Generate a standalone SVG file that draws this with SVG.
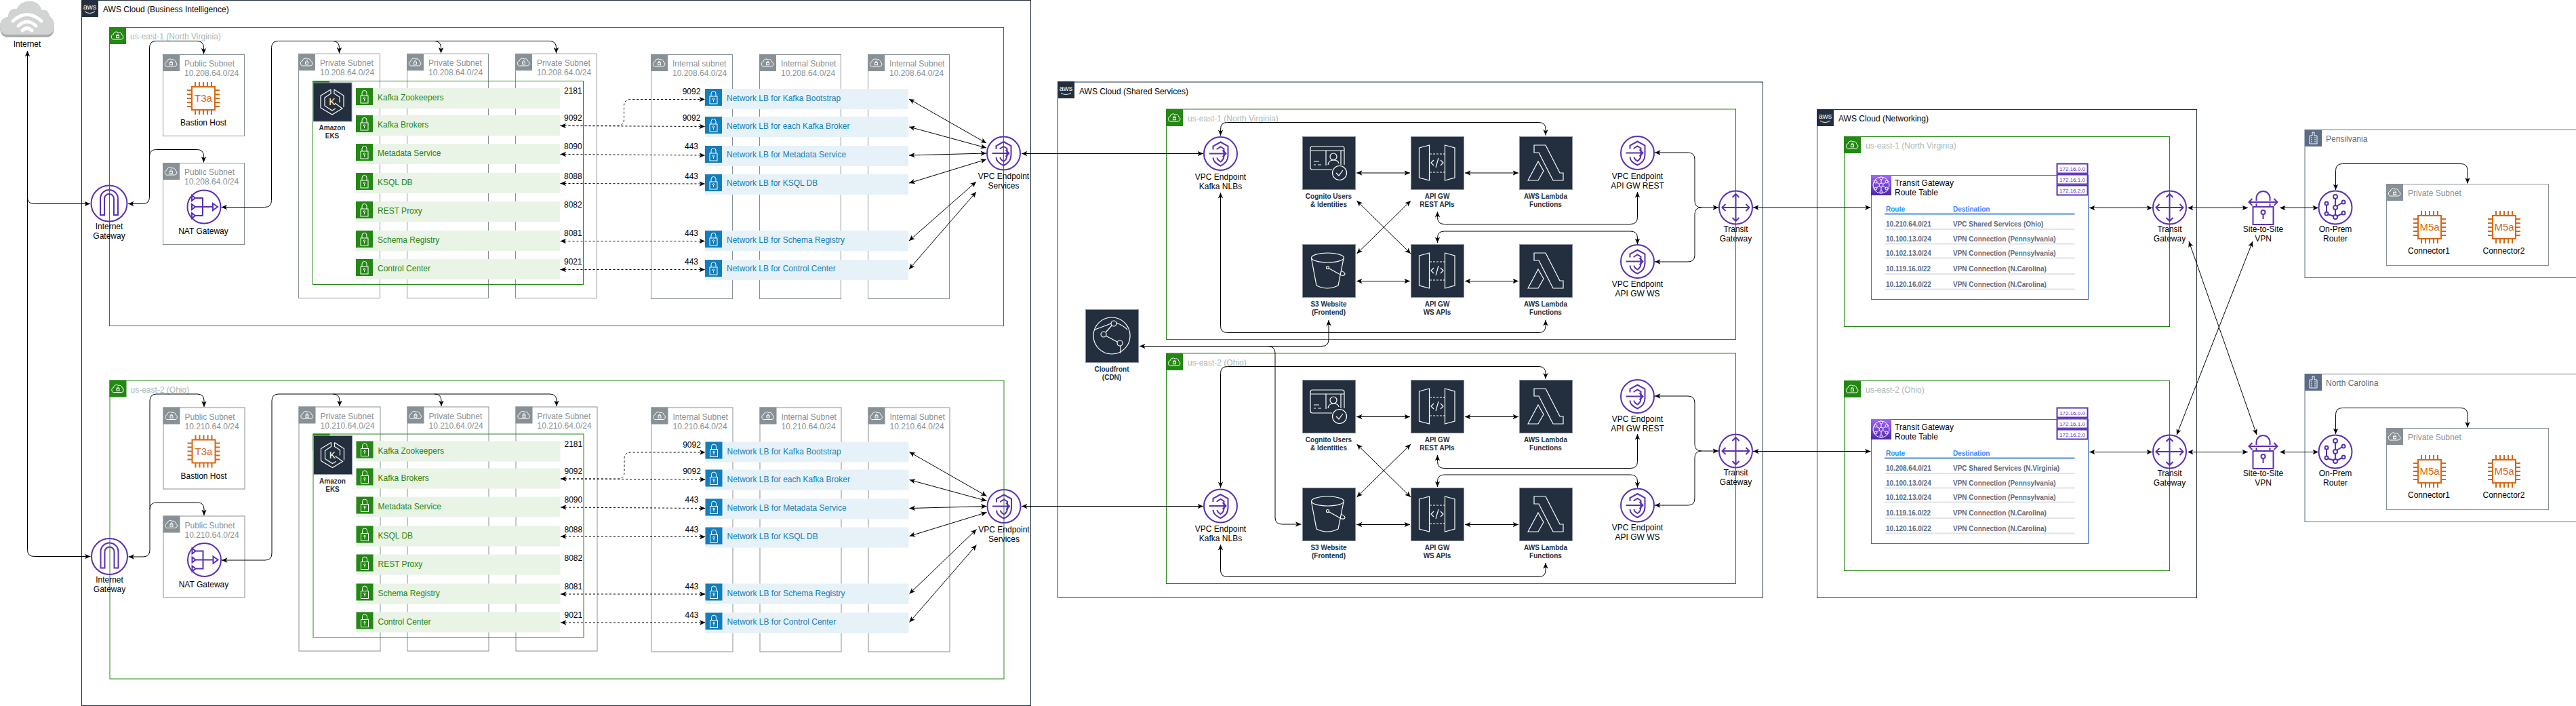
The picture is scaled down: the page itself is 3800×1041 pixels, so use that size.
<svg xmlns="http://www.w3.org/2000/svg" width="3800" height="1041" viewBox="0 0 3800 1041">
<style>
text{font-family:"Liberation Sans",Arial,sans-serif;font-size:12px;fill:#000}
.m{text-anchor:middle}
.b10{font-size:10px;font-weight:bold;fill:#232F3E}
.sub{fill:#879196}
.reg{fill:#AAB7B8}
.gt{fill:#248814}
.bt{fill:#147EBA}
.sl{fill:#5A6C86}
.hd{font-size:10px;font-weight:bold;fill:#2D8CFF}
.rw{font-size:10px;font-weight:bold;fill:#5A6B86}
.chipt{font-size:8px;fill:#5A30B5;text-anchor:middle}
.cloud{fill:none;stroke:#232F3E}
.region{fill:none;stroke:#248814}
.subnet{fill:none;stroke:#879196}
.office{fill:none;stroke:#5A6C86}
.rt{fill:#fff;stroke:#3B6FB5}
.chip{fill:#fff;stroke:#5A30B5;stroke-width:2}
.sep{stroke:#E0E3E8;stroke-width:2;fill:none}
.lg{fill:#E9F3E6}
.lb{fill:#E6F2F8}
.c{fill:none;stroke:#000;stroke-width:1;marker-end:url(#a)}
.cb{fill:none;stroke:#000;stroke-width:1;marker-start:url(#a);marker-end:url(#a)}
.d{stroke-dasharray:3 3}
.n{fill:none;stroke:#000;stroke-width:1}
.p{fill:none;stroke:#5A30B5;stroke-width:2}
.o{fill:none;stroke:#D86613;stroke-width:2}
.w{fill:none;stroke:#fff;stroke-width:1.2}
.w2{fill:none;stroke:#fff;stroke-width:1}
.dk{fill:#232F3E;stroke:#8A94A0;stroke-width:1}
</style>
<defs>
<marker id="a" viewBox="0 0 9 8" refX="8.5" refY="4" markerWidth="9" markerHeight="8" orient="auto-start-reverse" markerUnits="userSpaceOnUse"><path d="M0 0.3L8.5 4L0 7.7L2.2 4Z" fill="#000"/></marker>
<linearGradient id="pg" x1="0" y1="1" x2="0" y2="0"><stop offset="0" stop-color="#4D27AA"/><stop offset="1" stop-color="#A166FF"/></linearGradient>
<g id="hc"><path class="w2" d="M8 18h9.500a3.400 3.400 0 0 0 1.200-6.600a3.700 3.700 0 0 0-5.200-3.400a4.600 4.600 0 0 0-7.500 3a3.600 3.600 0 0 0 2 7z"/><rect class="w2" x="10.500" y="12.500" width="4" height="3.200"/><path class="w2" d="M11.300 12.500v-1a1.200 1.200 0 0 1 2.400 0v1"/></g>
<g id="h-grn"><rect width="25" height="25" fill="#248814"/><use href="#hc"/></g>
<g id="h-gry"><rect width="25" height="25" fill="#879196"/><use href="#hc"/></g>
<g id="h-aws"><rect width="25" height="25" fill="#232F3E"/><text x="12.500" y="14" class="m" style="font-size:11px;fill:#fff">aws</text><path d="M5 17Q12 22 20 17" class="w2"/></g>
<g id="h-bld"><rect width="25" height="25" fill="#5A6C86"/><path class="w2" d="M7 21V9H11V4H14V9H18V21ZM9 12H11M14 12H16M9 15H11M14 15H16M9 18H11M14 18H16"/></g>
<g id="lock"><rect class="w2" x="7" y="11" width="11" height="11"/><path class="w2" d="M9 11V7a3.500 3.500 0 0 1 7 0v4"/><circle class="w2" cx="12.500" cy="15" r="1.200"/><path class="w2" d="M12.500 16.200V19"/></g>
<g id="l-grn"><rect width="25" height="25" fill="#248814"/><use href="#lock"/></g>
<g id="l-blu"><rect width="25" height="25" fill="#147EBA"/><use href="#lock"/></g>
<g id="i-igw"><circle class="p" r="26.500"/><path class="p" d="M-13 17V-7a13 13 0 0 1 26 0V17H7V-7a7 7 0 0 0-14 0V17Z"/></g>
<g id="i-nat"><circle class="p" r="24.500"/><path class="p" d="M-18-17L-13-13L-18-9ZM-18-4L-13 0L-18 4ZM-18 9L-13 13L-18 17ZM-13-13H-2V13H-13M-13 0H13M13-5L20 0L13 5Z"/></g>
<g id="i-vpce"><circle class="p" r="24.500"/><path class="p" d="M-11-6V-11L0-17L11-11V3Q11 13 0 18Q-11 13-11 6M-5-6V-7L0-10L5-7V3Q5 9 0 12Q-5 9-5 6"/><path class="p" d="M-17 0H8M3-5L8 0L3 5"/></g>
<g id="i-tgw"><circle class="p" r="24.500"/><path class="p" d="M0-20V20M-20 0H20M-5-15L0-20L5-15M-5 15L0 20L5 15M-15-5L-20 0L-15 5M15-5L20 0L15 5"/></g>
<g id="i-vpn"><path class="p" d="M-21-8H21M-16-13L-21-8L-16-3M16-13L21-8L16-3M-10-10V-14a10 10 0 0 1 20 0V-10M-10-6V-1M10-6V-1"/><rect class="p" x="-15" y="-1" width="30" height="26"/><circle class="p" cx="0" cy="7" r="3"/><path class="p" d="M0 10V17"/></g>
<g id="i-rtr"><circle class="p" r="24.500"/><path class="p" d="M0-13V-3M0 3V11M2-2L10-7M-13-3V6M-11 10L-2 13M2 13L10 9"/><g class="p"><circle cy="-16" r="3"/><circle r="3"/><circle cx="-13" cy="-6" r="2.500"/><circle cx="12" cy="-8" r="2.500"/><circle cx="-13" cy="9" r="2.500"/><circle cx="12" cy="8" r="2.500"/><circle cy="14" r="3"/></g></g>
<g id="i-chip"><rect class="o" x="7" y="7" width="34" height="34"/><path class="o" d="M12 0V7M18 0V7M24 0V7M30 0V7M36 0V7M12 41V48M18 41V48M24 41V48M30 41V48M36 41V48M0 12H7M0 18H7M0 24H7M0 30H7M0 36H7M41 12H48M41 18H48M41 24H48M41 30H48M41 36H48"/></g>
<g id="i-cog"><rect class="dk" x=".5" y=".5" width="78" height="78"/><path class="w" d="M44 49H15Q12 49 12 46V18Q12 15 15 15H59Q62 15 62 18V42M12 21H35M57 21H62"/><path class="w" d="M35 43V21H57V42M38 42Q39 35 46 35Q53 35 54 40M17 37H25M17 42H20M23 42H28"/><circle class="w" cx="46" cy="30" r="5"/><circle class="w" cx="55" cy="54" r="10.500"/><path class="w" d="M50 54L54 58L60 50"/></g>
<g id="i-api"><rect class="dk" x=".5" y=".5" width="78" height="78"/><path class="w" d="M12.500 17L27.500 13V65L12.500 61ZM50.500 13L65 17V61L50.500 65Z"/><path class="w" stroke-dasharray="3 2" d="M28 26H50M28 53H50"/><path class="w" d="M34 35L30 39L34 43M44 35L48 39L44 43M37 46L41 32"/></g>
<g id="i-lam"><rect class="dk" x=".5" y=".5" width="78" height="78"/><path class="w" d="M22 13H39L60 54H65V65H50L29 24H22ZM13 65L28 37L36 51L28 65Z"/></g>
<g id="i-s3"><rect class="dk" x=".5" y=".5" width="78" height="78"/><ellipse class="w" cx="37.500" cy="20" rx="24" ry="7"/><path class="w" d="M13.500 21L21 61Q37 69 53 61L61 21"/><circle class="w" cx="37.500" cy="34.500" r="2"/><path class="w" d="M39 35.500L58 46Q63 47 63 43.500Q62 41 58 39.500"/></g>
<g id="i-cf"><rect class="dk" x=".5" y=".5" width="78" height="78"/><circle class="w" cx="39" cy="39" r="27"/><circle class="w" cx="42" cy="21" r="4"/><circle class="w" cx="27" cy="37" r="4"/><circle class="w" cx="51" cy="50" r="4"/><path class="w" d="M30 34L39 24M30 39L47 48M14 30Q25 26 38 21M46 20Q56 24 62 30M52 54L52 65"/></g>
<g id="i-eks"><rect class="dk" width="57" height="57" stroke="none"/><path class="w" d="M26 10L11 19V37L28 47L43 38L32 30M31 10L45 19V36M26 10V16L17 22V34L28 41L33 38M31 10V16L39 21V29"/><text x="28" y="33" class="m" style="font-size:14px;fill:#fff">K</text></g>
<g id="i-rt"><rect width="30" height="30" fill="url(#pg)"/><g class="w2"><circle cx="15" cy="15" r="12"/><path d="M15 7V23M8 11L22 19M8 19L22 11"/><circle cx="15" cy="15" r="3" fill="#7A47D6"/><circle cx="15" cy="5" r="2" fill="#7A47D6"/><circle cx="15" cy="25" r="2" fill="#7A47D6"/><circle cx="7" cy="10" r="2" fill="#7A47D6"/><circle cx="23" cy="10" r="2" fill="#7A47D6"/><circle cx="7" cy="20" r="2" fill="#7A47D6"/><circle cx="23" cy="20" r="2" fill="#7A47D6"/></g></g>
</defs>

<g id="internet">
<path d="M10 55Q0 53 0 40Q0 27 12 25Q13 12 25 13Q31 2 43 2Q58 2 61 15Q71 13 73 24Q80 29 80 40Q80 53 70 55Z" fill="#ABABAB"/>
<path d="M10 51Q0 50 0 38Q0 27 12 25Q13 12 25 13Q31 2 43 2Q58 2 61 15Q71 13 73 24Q80 29 80 38Q80 50 70 51Z" fill="#D2D3D3"/>
<path d="M19 31Q40 12 61 31M27 38Q40 26 53 38M33 45Q40 38 47 45" fill="none" stroke="#fff" stroke-width="5" stroke-linecap="round"/>
<text x="40" y="69" class="m">Internet</text>
</g>

<g id="cloud-bi"><rect class="cloud" x="120.500" y=".5" width="1400" height="1040"/><use href="#h-aws" x="120" y="0"/><text x="152" y="18">AWS Cloud (Business Intelligence)</text></g>

<g id="bi-1">
<g id="bi1-region"><rect class="region" x="161.500" y="40.500" width="1319" height="440"/><use href="#h-grn" x="161" y="40"/><text class="reg" x="192" y="58">us-east-1 (North Virginia)</text></g>
<g id="bi1-igw"><use href="#i-igw" x="161" y="300"/><text class="m" x="161" y="338">Internet</text><text class="m" x="161" y="352">Gateway</text></g>
<g id="bi1-pub1"><rect class="subnet" x="240.500" y="80.500" width="120" height="120"/><use href="#h-gry" x="240" y="80"/><text class="sub" x="272" y="98">Public Subnet</text><text class="sub" x="272" y="112">10.208.64.0/24</text><use href="#i-chip" x="276" y="121"/><text x="300" y="135" dy="15" class="m" style="font-size:15px;fill:#D86613">T3a</text><text class="m" x="300" y="185">Bastion Host</text></g>
<g id="bi1-pub2"><rect class="subnet" x="240.500" y="240.500" width="120" height="120"/><use href="#h-gry" x="240" y="240"/><text class="sub" x="272" y="258">Public Subnet</text><text class="sub" x="272" y="272">10.208.64.0/24</text><use href="#i-nat" x="301" y="305"/><text class="m" x="300" y="345">NAT Gateway</text></g>
<g id="bi1-priv1"><rect class="subnet" x="440.500" y="79.500" width="120" height="360"/><use href="#h-gry" x="440" y="79"/><text class="sub" x="472" y="97">Private Subnet</text><text class="sub" x="472" y="111">10.208.64.0/24</text></g>
<g id="bi1-priv2"><rect class="subnet" x="600.500" y="79.500" width="120" height="360"/><use href="#h-gry" x="600" y="79"/><text class="sub" x="632" y="97">Private Subnet</text><text class="sub" x="632" y="111">10.208.64.0/24</text></g>
<g id="bi1-priv3"><rect class="subnet" x="760.500" y="79.500" width="120" height="360"/><use href="#h-gry" x="760" y="79"/><text class="sub" x="792" y="97">Private Subnet</text><text class="sub" x="792" y="111">10.208.64.0/24</text></g>
<g id="bi1-int1"><rect class="subnet" x="960.500" y="80.500" width="120" height="360"/><use href="#h-gry" x="960" y="80"/><text class="sub" x="992" y="98">Internal subnet</text><text class="sub" x="992" y="112">10.208.64.0/24</text></g>
<g id="bi1-int2"><rect class="subnet" x="1120.500" y="80.500" width="120" height="360"/><use href="#h-gry" x="1120" y="80"/><text class="sub" x="1152" y="98">Internal Subnet</text><text class="sub" x="1152" y="112">10.208.64.0/24</text></g>
<g id="bi1-int3"><rect class="subnet" x="1280.500" y="80.500" width="120" height="360"/><use href="#h-gry" x="1280" y="80"/><text class="sub" x="1312" y="98">Internal Subnet</text><text class="sub" x="1312" y="112">10.208.64.0/24</text></g>
<g id="bi1-eks"><rect class="region" x="461.500" y="119.500" width="399" height="300"/><use href="#h-grn" x="461" y="119"/><use href="#i-eks" x="462" y="122"/><text class="m b10" x="490" y="192">Amazon</text><text class="m b10" x="490" y="204">EKS</text></g>
<g id="bi1-l1"><rect class="lg" x="525" y="130" width="301" height="30"/><use href="#l-grn" x="525" y="130"/><text class="gt" x="557" y="148">Kafka Zookeepers</text><text x="832" y="138">2181</text></g>
<g id="bi1-l2"><rect class="lg" x="525" y="170" width="301" height="30"/><use href="#l-grn" x="525" y="170"/><text class="gt" x="557" y="188">Kafka Brokers</text><text x="832" y="178">9092</text></g>
<g id="bi1-l3"><rect class="lg" x="525" y="212" width="301" height="30"/><use href="#l-grn" x="525" y="212"/><text class="gt" x="557" y="230">Metadata Service</text><text x="832" y="220">8090</text></g>
<g id="bi1-l4"><rect class="lg" x="525" y="255" width="301" height="30"/><use href="#l-grn" x="525" y="255"/><text class="gt" x="557" y="273">KSQL DB</text><text x="832" y="264">8088</text></g>
<g id="bi1-l5"><rect class="lg" x="525" y="297" width="301" height="30"/><use href="#l-grn" x="525" y="297"/><text class="gt" x="557" y="315">REST Proxy</text><text x="832" y="306">8082</text></g>
<g id="bi1-l6"><rect class="lg" x="525" y="340" width="301" height="30"/><use href="#l-grn" x="525" y="340"/><text class="gt" x="557" y="358">Schema Registry</text><text x="832" y="348">8081</text></g>
<g id="bi1-l7"><rect class="lg" x="525" y="382" width="301" height="30"/><use href="#l-grn" x="525" y="382"/><text class="gt" x="557" y="400">Control Center</text><text x="832" y="390">9021</text></g>
<g id="bi1-n1"><rect class="lb" x="1040" y="131" width="300" height="30"/><use href="#l-blu" x="1040" y="131"/><text class="bt" x="1072" y="149">Network LB for Kafka Bootstrap</text><text class="m" x="1020" y="139">9092</text></g>
<g id="bi1-n2"><rect class="lb" x="1040" y="172" width="300" height="30"/><use href="#l-blu" x="1040" y="172"/><text class="bt" x="1072" y="190">Network LB for each Kafka Broker</text><text class="m" x="1020" y="178">9092</text></g>
<g id="bi1-n3"><rect class="lb" x="1040" y="215" width="300" height="30"/><use href="#l-blu" x="1040" y="215"/><text class="bt" x="1072" y="232">Network LB for Metadata Service</text><text class="m" x="1020" y="220">443</text></g>
<g id="bi1-n4"><rect class="lb" x="1040" y="257" width="300" height="30"/><use href="#l-blu" x="1040" y="257"/><text class="bt" x="1072" y="274">Network LB for KSQL DB</text><text class="m" x="1020" y="264">443</text></g>
<g id="bi1-n5"><rect class="lb" x="1040" y="340" width="300" height="30"/><use href="#l-blu" x="1040" y="340"/><text class="bt" x="1072" y="358">Network LB for Schema Registry</text><text class="m" x="1020" y="348">443</text></g>
<g id="bi1-n6"><rect class="lb" x="1040" y="383" width="300" height="30"/><use href="#l-blu" x="1040" y="383"/><text class="bt" x="1072" y="400">Network LB for Control Center</text><text class="m" x="1020" y="390">443</text></g>
<g id="bi1-vpce"><use href="#i-vpce" x="1480.500" y="226"/><text class="m" x="1480.500" y="264">VPC Endpoint</text><text class="m" x="1480.500" y="278">Services</text></g>
</g>

<g id="bi-2" transform="translate(.5 520.500)">
<g id="bi2-region"><rect class="region" x="161.500" y="40.500" width="1319" height="440"/><use href="#h-grn" x="161" y="40"/><text class="reg" x="192" y="58">us-east-2 (Ohio)</text></g>
<g id="bi2-igw"><use href="#i-igw" x="161" y="300"/><text class="m" x="161" y="338">Internet</text><text class="m" x="161" y="352">Gateway</text></g>
<g id="bi2-pub1"><rect class="subnet" x="240.500" y="80.500" width="120" height="120"/><use href="#h-gry" x="240" y="80"/><text class="sub" x="272" y="98">Public Subnet</text><text class="sub" x="272" y="112">10.210.64.0/24</text><use href="#i-chip" x="276" y="121"/><text x="300" y="135" dy="15" class="m" style="font-size:15px;fill:#D86613">T3a</text><text class="m" x="300" y="185">Bastion Host</text></g>
<g id="bi2-pub2"><rect class="subnet" x="240.500" y="240.500" width="120" height="120"/><use href="#h-gry" x="240" y="240"/><text class="sub" x="272" y="258">Public Subnet</text><text class="sub" x="272" y="272">10.210.64.0/24</text><use href="#i-nat" x="301" y="305"/><text class="m" x="300" y="345">NAT Gateway</text></g>
<g id="bi2-priv1"><rect class="subnet" x="440.500" y="79.500" width="120" height="360"/><use href="#h-gry" x="440" y="79"/><text class="sub" x="472" y="97">Private Subnet</text><text class="sub" x="472" y="111">10.210.64.0/24</text></g>
<g id="bi2-priv2"><rect class="subnet" x="600.500" y="79.500" width="120" height="360"/><use href="#h-gry" x="600" y="79"/><text class="sub" x="632" y="97">Private Subnet</text><text class="sub" x="632" y="111">10.210.64.0/24</text></g>
<g id="bi2-priv3"><rect class="subnet" x="760.500" y="79.500" width="120" height="360"/><use href="#h-gry" x="760" y="79"/><text class="sub" x="792" y="97">Private Subnet</text><text class="sub" x="792" y="111">10.210.64.0/24</text></g>
<g id="bi2-int1"><rect class="subnet" x="960.500" y="80.500" width="120" height="360"/><use href="#h-gry" x="960" y="80"/><text class="sub" x="992" y="98">Internal Subnet</text><text class="sub" x="992" y="112">10.210.64.0/24</text></g>
<g id="bi2-int2"><rect class="subnet" x="1120.500" y="80.500" width="120" height="360"/><use href="#h-gry" x="1120" y="80"/><text class="sub" x="1152" y="98">Internal Subnet</text><text class="sub" x="1152" y="112">10.210.64.0/24</text></g>
<g id="bi2-int3"><rect class="subnet" x="1280.500" y="80.500" width="120" height="360"/><use href="#h-gry" x="1280" y="80"/><text class="sub" x="1312" y="98">Internal Subnet</text><text class="sub" x="1312" y="112">10.210.64.0/24</text></g>
<g id="bi2-eks"><rect class="region" x="461.500" y="119.500" width="399" height="300"/><use href="#h-grn" x="461" y="119"/><use href="#i-eks" x="462" y="122"/><text class="m b10" x="490" y="192">Amazon</text><text class="m b10" x="490" y="204">EKS</text></g>
<g id="bi2-l1"><rect class="lg" x="525" y="130" width="301" height="30"/><use href="#l-grn" x="525" y="130"/><text class="gt" x="557" y="148">Kafka Zookeepers</text><text x="832" y="138">2181</text></g>
<g id="bi2-l2"><rect class="lg" x="525" y="170" width="301" height="30"/><use href="#l-grn" x="525" y="170"/><text class="gt" x="557" y="188">Kafka Brokers</text><text x="832" y="178">9092</text></g>
<g id="bi2-l3"><rect class="lg" x="525" y="212" width="301" height="30"/><use href="#l-grn" x="525" y="212"/><text class="gt" x="557" y="230">Metadata Service</text><text x="832" y="220">8090</text></g>
<g id="bi2-l4"><rect class="lg" x="525" y="255" width="301" height="30"/><use href="#l-grn" x="525" y="255"/><text class="gt" x="557" y="273">KSQL DB</text><text x="832" y="264">8088</text></g>
<g id="bi2-l5"><rect class="lg" x="525" y="297" width="301" height="30"/><use href="#l-grn" x="525" y="297"/><text class="gt" x="557" y="315">REST Proxy</text><text x="832" y="306">8082</text></g>
<g id="bi2-l6"><rect class="lg" x="525" y="340" width="301" height="30"/><use href="#l-grn" x="525" y="340"/><text class="gt" x="557" y="358">Schema Registry</text><text x="832" y="348">8081</text></g>
<g id="bi2-l7"><rect class="lg" x="525" y="382" width="301" height="30"/><use href="#l-grn" x="525" y="382"/><text class="gt" x="557" y="400">Control Center</text><text x="832" y="390">9021</text></g>
<g id="bi2-n1"><rect class="lb" x="1040" y="131" width="300" height="30"/><use href="#l-blu" x="1040" y="131"/><text class="bt" x="1072" y="149">Network LB for Kafka Bootstrap</text><text class="m" x="1020" y="139">9092</text></g>
<g id="bi2-n2"><rect class="lb" x="1040" y="172" width="300" height="30"/><use href="#l-blu" x="1040" y="172"/><text class="bt" x="1072" y="190">Network LB for each Kafka Broker</text><text class="m" x="1020" y="178">9092</text></g>
<g id="bi2-n3"><rect class="lb" x="1040" y="215" width="300" height="30"/><use href="#l-blu" x="1040" y="215"/><text class="bt" x="1072" y="232">Network LB for Metadata Service</text><text class="m" x="1020" y="220">443</text></g>
<g id="bi2-n4"><rect class="lb" x="1040" y="257" width="300" height="30"/><use href="#l-blu" x="1040" y="257"/><text class="bt" x="1072" y="274">Network LB for KSQL DB</text><text class="m" x="1020" y="264">443</text></g>
<g id="bi2-n5"><rect class="lb" x="1040" y="340" width="300" height="30"/><use href="#l-blu" x="1040" y="340"/><text class="bt" x="1072" y="358">Network LB for Schema Registry</text><text class="m" x="1020" y="348">443</text></g>
<g id="bi2-n6"><rect class="lb" x="1040" y="383" width="300" height="30"/><use href="#l-blu" x="1040" y="383"/><text class="bt" x="1072" y="400">Network LB for Control Center</text><text class="m" x="1020" y="390">443</text></g>
<g id="bi2-vpce"><use href="#i-vpce" x="1480.500" y="226"/><text class="m" x="1480.500" y="264">VPC Endpoint</text><text class="m" x="1480.500" y="278">Services</text></g>
</g>

<g id="cloud-shared"><rect class="cloud" x="1560.500" y="121" width="1040" height="760"/><use href="#h-aws" x="1560" y="120"/><text x="1592" y="139">AWS Cloud (Shared Services)</text></g>
<g id="ss1-region"><rect class="region" x="1720.500" y="161" width="840" height="339.500"/><use href="#h-grn" x="1720" y="161"/><text class="reg" x="1752" y="179">us-east-1 (North Virginia)</text></g>
<g id="ss2-region"><rect class="region" x="1720.500" y="521" width="840" height="339.500"/><use href="#h-grn" x="1720" y="521"/><text class="reg" x="1752" y="539">us-east-2 (Ohio)</text></g>
<g id="cloudfront"><use href="#i-cf" x="1601" y="456"/><text class="m b10" x="1640" y="548">Cloudfront</text><text class="m b10" x="1640" y="560">(CDN)</text></g>

<g id="ss1-kafka"><use href="#i-vpce" x="1800.500" y="226.500"/><text class="m" x="1800.500" y="265">VPC Endpoint</text><text class="m" x="1800.500" y="279">Kafka NLBs</text></g>
<g id="ss1-cognito"><use href="#i-cog" x="1921" y="201"/><text class="m b10" x="1960" y="293">Cognito Users</text><text class="m b10" x="1960" y="305">&amp; Identities</text></g>
<g id="ss1-apirest"><use href="#i-api" x="2081" y="201"/><text class="m b10" x="2120" y="293">API GW</text><text class="m b10" x="2120" y="305">REST APIs</text></g>
<g id="ss1-lam1"><use href="#i-lam" x="2241" y="201"/><text class="m b10" x="2280" y="293">AWS Lambda</text><text class="m b10" x="2280" y="305">Functions</text></g>
<g id="ss1-s3"><use href="#i-s3" x="1921" y="360"/><text class="m b10" x="1960" y="452">S3 Website</text><text class="m b10" x="1960" y="464">(Frontend)</text></g>
<g id="ss1-apiws"><use href="#i-api" x="2081" y="360"/><text class="m b10" x="2120" y="452">API GW</text><text class="m b10" x="2120" y="464">WS APIs</text></g>
<g id="ss1-lam2"><use href="#i-lam" x="2241" y="360"/><text class="m b10" x="2280" y="452">AWS Lambda</text><text class="m b10" x="2280" y="464">Functions</text></g>
<g id="ss1-vperest"><use href="#i-vpce" x="2415.500" y="225.500"/><text class="m" x="2415.500" y="264">VPC Endpoint</text><text class="m" x="2415.500" y="278">API GW REST</text></g>
<g id="ss1-vpews"><use href="#i-vpce" x="2415.500" y="385.500"/><text class="m" x="2415.500" y="423">VPC Endpoint</text><text class="m" x="2415.500" y="437">API GW WS</text></g>
<g id="ss1-tgw"><use href="#i-tgw" x="2560.500" y="306"/><text class="m" x="2560.500" y="342">Transit</text><text class="m" x="2560.500" y="356">Gateway</text></g>

<g id="ss2-kafka"><use href="#i-vpce" x="1800.500" y="746"/><text class="m" x="1800.500" y="784">VPC Endpoint</text><text class="m" x="1800.500" y="798">Kafka NLBs</text></g>
<g id="ss2-cognito"><use href="#i-cog" x="1921" y="560"/><text class="m b10" x="1960" y="652">Cognito Users</text><text class="m b10" x="1960" y="664">&amp; Identities</text></g>
<g id="ss2-apirest"><use href="#i-api" x="2081" y="560"/><text class="m b10" x="2120" y="652">API GW</text><text class="m b10" x="2120" y="664">REST APIs</text></g>
<g id="ss2-lam1"><use href="#i-lam" x="2241" y="560"/><text class="m b10" x="2280" y="652">AWS Lambda</text><text class="m b10" x="2280" y="664">Functions</text></g>
<g id="ss2-s3"><use href="#i-s3" x="1921" y="719"/><text class="m b10" x="1960" y="811">S3 Website</text><text class="m b10" x="1960" y="823">(Frontend)</text></g>
<g id="ss2-apiws"><use href="#i-api" x="2081" y="719"/><text class="m b10" x="2120" y="811">API GW</text><text class="m b10" x="2120" y="823">WS APIs</text></g>
<g id="ss2-lam2"><use href="#i-lam" x="2241" y="719"/><text class="m b10" x="2280" y="811">AWS Lambda</text><text class="m b10" x="2280" y="823">Functions</text></g>
<g id="ss2-vperest"><use href="#i-vpce" x="2415.500" y="584.500"/><text class="m" x="2415.500" y="622">VPC Endpoint</text><text class="m" x="2415.500" y="636">API GW REST</text></g>
<g id="ss2-vpews"><use href="#i-vpce" x="2415.500" y="745"/><text class="m" x="2415.500" y="782">VPC Endpoint</text><text class="m" x="2415.500" y="796">API GW WS</text></g>
<g id="ss2-tgw"><use href="#i-tgw" x="2560.500" y="665"/><text class="m" x="2560.500" y="701">Transit</text><text class="m" x="2560.500" y="715">Gateway</text></g>

<g id="cloud-net"><rect class="cloud" x="2680.500" y="161.500" width="560" height="720"/><use href="#h-aws" x="2680" y="161"/><text x="2712" y="179">AWS Cloud (Networking)</text></g>
<g id="nw1-region"><rect class="region" x="2720.500" y="201.500" width="480" height="280"/><use href="#h-grn" x="2720" y="201"/><text class="reg" x="2752" y="219">us-east-1 (North Virginia)</text></g>
<g id="nw2-region"><rect class="region" x="2720.500" y="561.500" width="480" height="280"/><use href="#h-grn" x="2720" y="561"/><text class="reg" x="2752" y="579">us-east-2 (Ohio)</text></g>

<g id="nw1-rt">
<rect class="rt" x="2760.500" y="258.500" width="320" height="183"/><use href="#i-rt" x="2760" y="258"/>
<text x="2795" y="274">Transit Gateway</text><text x="2795" y="288">Route Table</text>
<rect class="chip" x="3034.500" y="241.500" width="45" height="14"/><text class="chipt" x="3057" y="251.500">172.16.0.0</text>
<rect class="chip" x="3034.500" y="257.500" width="45" height="14"/><text class="chipt" x="3057" y="267.500">172.16.1.0</text>
<rect class="chip" x="3034.500" y="273.500" width="45" height="14"/><text class="chipt" x="3057" y="283.500">172.16.2.0</text>
<text class="hd" x="2782" y="312">Route</text><text class="hd" x="2881" y="312">Destination</text>
<path d="M2780 315.500H3060.500" stroke="#4A90E2" stroke-width="2" fill="none"/>
<text class="rw" x="2782" y="334">10.210.64.0/21</text><text class="rw" x="2881" y="334">VPC Shared Services (Ohio)</text>
<text class="rw" x="2782" y="356">10.100.13.0/24</text><text class="rw" x="2881" y="356">VPN Connection (Pennsylvania)</text>
<text class="rw" x="2782" y="377">10.102.13.0/24</text><text class="rw" x="2881" y="377">VPN Connection (Pennsylvania)</text>
<text class="rw" x="2782" y="400">10.119.16.0/22</text><text class="rw" x="2881" y="400">VPN Connection (N.Carolina)</text>
<text class="rw" x="2782" y="423">10.120.16.0/22</text><text class="rw" x="2881" y="423">VPN Connection (N.Carolina)</text>
<path class="sep" d="M2780 338H3060.500M2780 359.500H3060.500M2780 380.500H3060.500M2780 404H3060.500M2780 426.500H3060.500"/>
</g>
<g id="nw2-rt">
<rect class="rt" x="2760.500" y="618.500" width="320" height="183"/><use href="#i-rt" x="2760" y="618"/>
<text x="2795" y="634">Transit Gateway</text><text x="2795" y="648">Route Table</text>
<rect class="chip" x="3034.500" y="601.500" width="45" height="14"/><text class="chipt" x="3057" y="611.500">172.16.0.0</text>
<rect class="chip" x="3034.500" y="617.500" width="45" height="14"/><text class="chipt" x="3057" y="627.500">172.16.1.0</text>
<rect class="chip" x="3034.500" y="633.500" width="45" height="14"/><text class="chipt" x="3057" y="643.500">172.16.2.0</text>
<text class="hd" x="2782" y="672">Route</text><text class="hd" x="2881" y="672">Destination</text>
<path d="M2780 675.500H3060.500" stroke="#4A90E2" stroke-width="2" fill="none"/>
<text class="rw" x="2782" y="694">10.208.64.0/21</text><text class="rw" x="2881" y="694">VPC Shared Services (N.Virginia)</text>
<text class="rw" x="2782" y="716">10.100.13.0/24</text><text class="rw" x="2881" y="716">VPN Connection (Pennsylvania)</text>
<text class="rw" x="2782" y="737">10.102.13.0/24</text><text class="rw" x="2881" y="737">VPN Connection (Pennsylvania)</text>
<text class="rw" x="2782" y="760">10.119.16.0/22</text><text class="rw" x="2881" y="760">VPN Connection (N.Carolina)</text>
<text class="rw" x="2782" y="783">10.120.16.0/22</text><text class="rw" x="2881" y="783">VPN Connection (N.Carolina)</text>
<path class="sep" d="M2780 698H3060.500M2780 719.500H3060.500M2780 740.500H3060.500M2780 764H3060.500M2780 786.500H3060.500"/>
</g>
<g id="nw1-tgw"><use href="#i-tgw" x="3200.500" y="306"/><text class="m" x="3200.500" y="342">Transit</text><text class="m" x="3200.500" y="356">Gateway</text></g>
<g id="nw2-tgw"><use href="#i-tgw" x="3200.500" y="666"/><text class="m" x="3200.500" y="702">Transit</text><text class="m" x="3200.500" y="716">Gateway</text></g>
<g id="nw1-vpn"><use href="#i-vpn" x="3338.500" y="306"/><text class="m" x="3338.500" y="342">Site-to-Site</text><text class="m" x="3338.500" y="356">VPN</text></g>
<g id="nw2-vpn"><use href="#i-vpn" x="3338.500" y="666"/><text class="m" x="3338.500" y="702">Site-to-Site</text><text class="m" x="3338.500" y="716">VPN</text></g>

<g id="pa"><rect class="office" x="3400" y="191.500" width="420" height="218"/><use href="#h-bld" x="3400" y="191"/><text class="sl" x="3431" y="209">Pensilvania</text></g>
<g id="pa-subnet"><rect class="subnet" x="3520.500" y="271.500" width="239" height="120"/><use href="#h-gry" x="3520" y="271"/><text class="sub" x="3552" y="289">Private Subnet</text></g>
<g id="pa-router"><use href="#i-rtr" x="3445" y="306"/><text class="m" x="3445" y="342">On-Prem</text><text class="m" x="3445" y="356">Router</text></g>
<g id="pa-c1"><use href="#i-chip" x="3560" y="311"/><text x="3584" y="340" class="m" style="font-size:15px;fill:#D86613">M5a</text><text class="m" x="3583" y="374">Connector1</text></g>
<g id="pa-c2"><use href="#i-chip" x="3670" y="311"/><text x="3694" y="340" class="m" style="font-size:15px;fill:#D86613">M5a</text><text class="m" x="3693.500" y="374">Connector2</text></g>

<g id="nc"><rect class="office" x="3400" y="551.500" width="420" height="218"/><use href="#h-bld" x="3400" y="551"/><text class="sl" x="3431" y="569">North Carolina</text></g>
<g id="nc-subnet"><rect class="subnet" x="3520.500" y="631.500" width="239" height="120"/><use href="#h-gry" x="3520" y="631"/><text class="sub" x="3552" y="649">Private Subnet</text></g>
<g id="nc-router"><use href="#i-rtr" x="3445" y="666"/><text class="m" x="3445" y="702">On-Prem</text><text class="m" x="3445" y="716">Router</text></g>
<g id="nc-c1"><use href="#i-chip" x="3560" y="671"/><text x="3584" y="700" class="m" style="font-size:15px;fill:#D86613">M5a</text><text class="m" x="3583" y="734">Connector1</text></g>
<g id="nc-c2"><use href="#i-chip" x="3670" y="671"/><text x="3694" y="700" class="m" style="font-size:15px;fill:#D86613">M5a</text><text class="m" x="3693.500" y="734">Connector2</text></g>

<g id="connectors">
<path class="cb" d="M40.500 75V290.500Q40.500 300.500 50.500 300.500H133"/>
<path class="c" d="M40.500 290V810.500Q40.500 820.500 50.500 820.500H133.500"/>
<g id="conn-bi1">
<path class="cb" d="M189 300.500H210.500Q220.500 300.500 220.500 290.500V70.500Q220.500 60.500 230.500 60.500H290.500Q300.500 60.500 300.500 70.500V79.500"/>
<path class="c" d="M220.500 230.500Q220.500 220.500 230.500 220.500H290.500Q300.500 220.500 300.500 230.500V239.500"/>
<path class="cb" d="M326.500 305.500H390.500Q400.500 305.500 400.500 295.500V70.500Q400.500 60.500 410.500 60.500H490.500Q500.500 60.500 500.500 70.500V78.500"/>
<path class="c" d="M490.500 60.500H640.500Q650.500 60.500 650.500 70.500V78.500"/>
<path class="c" d="M640.500 60.500H810.500Q820.500 60.500 820.500 70.500V78.500"/>
<path class="cb d" d="M826.500 185.500L1040 186.500"/>
<path class="c d" d="M826.500 185.500H910.500Q920.500 185.500 920.500 175.500V156Q920.500 146.500 930.500 146.500H1040"/>
<path class="cb d" d="M826.500 227.500L1040 229"/>
<path class="cb d" d="M826.500 270.500L1040 271"/>
<path class="cb d" d="M826.500 355.500H1040"/>
<path class="cb d" d="M826.500 397.500H1040"/>
<path class="cb" d="M1341 146L1455 211"/>
<path class="cb" d="M1341 187L1455 218"/>
<path class="cb" d="M1341 229L1455 226"/>
<path class="cb" d="M1341 270L1455 235"/>
<path class="cb" d="M1341 355L1440 268"/>
<path class="cb" d="M1341 397L1440 283"/>
</g>
<g id="conn-bi2" transform="translate(.5 520.500)">
<path class="cb" d="M189 300.500H210.500Q220.500 300.500 220.500 290.500V70.500Q220.500 60.500 230.500 60.500H290.500Q300.500 60.500 300.500 70.500V79.500"/>
<path class="c" d="M220.500 230.500Q220.500 220.500 230.500 220.500H290.500Q300.500 220.500 300.500 230.500V239.500"/>
<path class="cb" d="M326.500 305.500H390.500Q400.500 305.500 400.500 295.500V70.500Q400.500 60.500 410.500 60.500H490.500Q500.500 60.500 500.500 70.500V78.500"/>
<path class="c" d="M490.500 60.500H640.500Q650.500 60.500 650.500 70.500V78.500"/>
<path class="c" d="M640.500 60.500H810.500Q820.500 60.500 820.500 70.500V78.500"/>
<path class="cb d" d="M826.500 185.500L1040 186.500"/>
<path class="c d" d="M826.500 185.500H910.500Q920.500 185.500 920.500 175.500V156Q920.500 146.500 930.500 146.500H1040"/>
<path class="cb d" d="M826.500 227.500L1040 229"/>
<path class="cb d" d="M826.500 270.500L1040 271"/>
<path class="cb d" d="M826.500 355.500H1040"/>
<path class="cb d" d="M826.500 397.500H1040"/>
<path class="cb" d="M1341 146L1455 211"/>
<path class="cb" d="M1341 187L1455 218"/>
<path class="cb" d="M1341 229L1455 226"/>
<path class="cb" d="M1341 270L1455 235"/>
<path class="cb" d="M1341 355L1440 260"/>
<path class="cb" d="M1341 397L1440 283"/>
</g>
<path class="cb" d="M1507 226.500H1775"/>
<path class="cb" d="M1507 746.500H1775"/>
<g id="conn-ss1">
<path class="cb" d="M1800.500 200V190.500Q1800.500 180.500 1810.500 180.500H2270Q2280 180.500 2280 190.500V199.500"/>
<path class="cb" d="M1800.500 284V480.500Q1800.500 490.500 1810.500 490.500H2270Q2280 490.500 2280 480.500V472"/>
<path class="cb" d="M1960 472V500.500Q1960 510.500 1950 510.500H1681"/>
<path class="cb" d="M2001 255H2080"/>
<path class="cb" d="M2161 255H2240"/>
<path class="cb" d="M2001 414.500H2080"/>
<path class="cb" d="M2161 414.500H2240"/>
<path class="cb" d="M2001.500 296L2081 374"/>
<path class="cb" d="M2081 296L2001.500 374"/>
<path class="cb" d="M2120.500 312V320.500Q2120.500 330.500 2130.500 330.500H2405Q2415.500 330.500 2415.500 320.500V283"/>
<path class="cb" d="M2120.500 358V351Q2120.500 341 2130.500 341H2405Q2415.500 341 2415.500 351V360"/>
<path class="cb" d="M2535 306H2510Q2500 306 2500 296V235Q2500 225 2490 225H2441"/>
<path class="c" d="M2510 306Q2500 306 2500 316V376Q2500 386 2490 386H2441"/>
</g>
<path class="c" d="M1870 510.500Q1881 510.500 1881 520.500V763Q1881 773 1891 773H1919.500"/>
<g id="conn-ss2">
<path class="cb" d="M1800.500 719V550.500Q1800.500 540.500 1810.500 540.500H2270Q2280 540.500 2280 550.500V558.500"/>
<path class="cb" d="M1800.500 803V840.500Q1800.500 850.500 1810.500 850.500H2270Q2280 850.500 2280 840.500V830"/>
<path class="cb" d="M2001 614.500H2080"/>
<path class="cb" d="M2161 614.500H2240"/>
<path class="cb" d="M2001 773.500H2080"/>
<path class="cb" d="M2161 773.500H2240"/>
<path class="cb" d="M2001.500 655L2081 733"/>
<path class="cb" d="M2081 655L2001.500 733"/>
<path class="cb" d="M2120.500 671V680.500Q2120.500 690.500 2130.500 690.500H2405Q2415.500 690.500 2415.500 680.500V640"/>
<path class="cb" d="M2120.500 718V710Q2120.500 700 2130.500 700H2405Q2415.500 700 2415.500 710V719"/>
<path class="cb" d="M2535 665H2510Q2500 665 2500 655V594Q2500 584 2490 584H2441"/>
<path class="c" d="M2510 665Q2500 665 2500 675V735Q2500 745 2490 745H2441"/>
</g>
<path class="cb" d="M2586 306H2759.500"/>
<path class="cb" d="M2586 665.500H2759.500"/>
<g id="conn-net">
<path class="cb" d="M3082 306.500H3175"/>
<path class="cb" d="M3227 306.500H3316"/>
<path class="cb" d="M3363 306.500H3420"/>
<path class="cb" d="M3445.500 280V251.500Q3445.500 241.500 3455.500 241.500H3630Q3640 241.500 3640 251.500V270.500"/>
<path class="cb" d="M3082 666.500H3175"/>
<path class="cb" d="M3227 666.500H3316"/>
<path class="cb" d="M3363 666.500H3420"/>
<path class="cb" d="M3445.500 640V611.500Q3445.500 601.500 3455.500 601.500H3630Q3640 601.500 3640 611.500V630.500"/>
<path class="cb" d="M3229 356L3329 641"/>
<path class="cb" d="M3323 356L3211 641"/>
</g>
</g>
</svg>
